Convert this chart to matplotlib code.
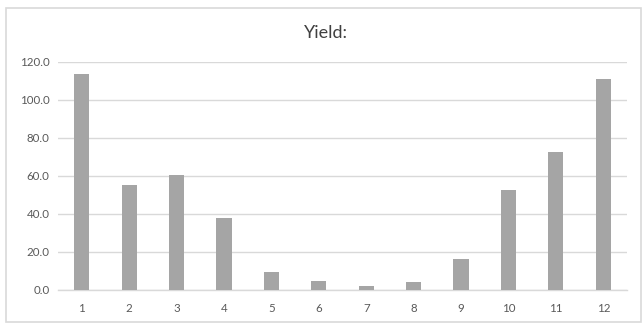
import matplotlib.pyplot as plt
from matplotlib.patches import Rectangle

# Monthly yield values
months = ['1', '2', '3', '4', '5', '6', '7', '8', '9', '10', '11', '12']
yield_values = [113.7, 55.3, 60.5, 37.7, 9.6, 4.9, 2.3, 4.0, 16.1, 52.6, 72.5, 110.9]
y_ticks = [0, 20, 40, 60, 80, 100, 120]

plt.rcParams['font.family'] = ['Lato', 'DejaVu Sans']

fig = plt.figure(figsize=(6.43, 3.23), dpi=100)
ax = fig.add_axes([58 / 643, 1 - 290 / 323, (627 - 58) / 643, (290 - 62) / 323])

# light frame around the whole chart, like an Excel chart area
fig.patches.append(Rectangle((6 / 643, 1 / 323), 635 / 643, 314 / 323,
                             transform=fig.transFigure, fill=False,
                             edgecolor='#d9d9d9', linewidth=1.2))

x = range(len(months))
ax.bar(x, yield_values, width=0.32, color='#a5a5a5', zorder=3)

ax.set_xlim(-0.5, len(months) - 0.5)
ax.set_ylim(0, 120)
ax.set_yticks(y_ticks)
ax.set_yticklabels([f'{v:.1f}' for v in y_ticks])
ax.set_xticks(list(x))
ax.set_xticklabels(months)

ax.grid(axis='y', color='#d9d9d9', linewidth=1.0, zorder=0)
for side in ['top', 'right', 'left']:
    ax.spines[side].set_visible(False)
ax.spines['bottom'].set_color('#d9d9d9')
ax.spines['bottom'].set_linewidth(1.0)
ax.tick_params(length=0, labelsize=8.3, labelcolor='#595959', pad=9)
ax.tick_params(axis='y', pad=6)

fig.text(326 / 643, 1 - 33 / 323, 'Yield:', ha='center', va='center',
         fontsize=13, color='#404040')

fig.savefig('out.png', dpi=100)
